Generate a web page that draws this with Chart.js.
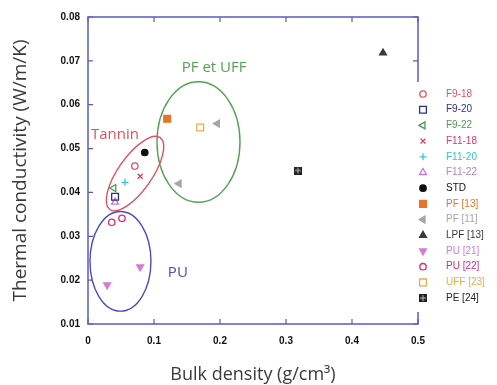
<!DOCTYPE html>
<html>
<head>
<meta charset="utf-8">
<script src="https://cdn.jsdelivr.net/npm/chart.js@4.4.1/dist/chart.umd.min.js"></script>
<style>
  html, body { margin: 0; padding: 0; background: #fff; }
  #wrap { width: 497px; height: 385px; position: relative; }
</style>
</head>
<body>
<div id="wrap"><canvas id="scatterChart"></canvas></div>
<script>
// series data
const seriesNames = ['F9-18', 'F9-20', 'F9-22', 'F11-18', 'F11-20', 'F11-22', 'STD',
  'PF [13]', 'PF [11]', 'LPF [13]', 'PU [21]', 'PU [22]', 'UFF [23]', 'PE [24]'];
const seriesX = [[0.071], [0.041], [0.039], [0.079], [0.056], [0.041], [0.086],
  [0.12], [0.196, 0.138], [0.447], [0.029, 0.079], [0.036, 0.0515], [0.17], [0.318]];
const seriesY = [[0.046], [0.039], [0.041], [0.0437], [0.0423], [0.0378], [0.0491],
  [0.0568], [0.0557, 0.042], [0.0718], [0.0189, 0.023], [0.0332, 0.0341], [0.0548], [0.045]];
const seriesColors = ['#e2505a', '#2e2e9a', '#4f9a4f', '#d63a6a', '#35c4d4', '#c27ac8', '#111111',
  '#e8742a', '#a6a6a6', '#3a3a3a', '#d67ad6', '#d42a86', '#f2aa48', '#222222'];
const seriesShapes = ['circle', 'rect', 'triangle', 'crossRot', 'cross', 'triangle', 'circle',
  'rect', 'triangle', 'triangle', 'triangle', 'circle', 'rect', 'grid'];
const seriesRotation = [0, 0, 270, 0, 0, 0, 0, 0, 270, 0, 180, 0, 0, 0];
const seriesFilled = [false, false, false, false, false, false, true,
  true, true, true, true, false, false, true];

// axis ticks
const xTickLabels = ['0', '0.1', '0.2', '0.3', '0.4', '0.5'];
const yTickLabels = ['0.01', '0.02', '0.03', '0.04', '0.05', '0.06', '0.07', '0.08'];

// group ellipses (centre in data units, radii in data units, tilt in degrees)
const groupNames = ['PF et UFF', 'Tannin', 'PU'];
const groupCx = [0.1674, 0.0712, 0.0492];
const groupCy = [0.0515, 0.0443, 0.0243];
const groupRx = [0.0629, 0.0664, 0.0462];
const groupRy = [0.01375, 0.00386, 0.01136];
const groupTilt = [0, -55, 0];
const groupLabelX = [0.142, 0.0045, 0.121];
const groupLabelY = [0.0684, 0.0532, 0.0218];
const groupColors = ['#56a056', '#e0505e', '#4a4ac2'];

const axisColor = '#5a5ac6';

// marker size by shape
function markerRadius(shape) {
  if (shape === 'rect') return 4.8;
  if (shape === 'triangle') return 4;
  if (shape === 'circle') return 3.2;
  return 3.5;
}

// boxed-plus marker for PE [24]
function gridMarker() {
  const c = document.createElement('canvas');
  c.width = 8; c.height = 8;
  const g = c.getContext('2d');
  g.fillStyle = '#222';
  g.fillRect(0, 0, 8, 8);
  g.fillStyle = '#bbb';
  g.fillRect(1, 3.5, 6, 1);
  g.fillRect(3.5, 1, 1, 6);
  return c;
}
const gridImg = gridMarker();

const datasets = seriesNames.map((name, i) => ({
  label: name,
  data: seriesX[i].map((x, j) => ({ x: x, y: seriesY[i][j] })),
  pointStyle: seriesShapes[i] === 'grid' ? gridImg : seriesShapes[i],
  rotation: seriesRotation[i],
  pointRadius: markerRadius(seriesShapes[i]),
  borderWidth: 1.3,
  borderColor: seriesColors[i],
  backgroundColor: seriesFilled[i] ? seriesColors[i] : 'rgba(0,0,0,0)'
}));

// frame, inward ticks and group ellipses
const decorPlugin = {
  id: 'decor',
  beforeDatasetsDraw(chart) {
    const ctx = chart.ctx;
    const a = chart.chartArea;
    const xs = chart.scales.x, ys = chart.scales.y;
    ctx.save();

    groupNames.forEach((g, i) => {
      const cx = xs.getPixelForValue(groupCx[i]);
      const cy = ys.getPixelForValue(groupCy[i]);
      const rx = Math.abs(xs.getPixelForValue(groupCx[i] + groupRx[i]) - cx);
      const ry = Math.abs(ys.getPixelForValue(groupCy[i] + groupRy[i]) - cy);
      ctx.strokeStyle = groupColors[i];
      ctx.lineWidth = 1.4;
      ctx.beginPath();
      ctx.ellipse(cx, cy, rx, ry, groupTilt[i] * Math.PI / 180, 0, Math.PI * 2);
      ctx.stroke();
      ctx.fillStyle = groupColors[i];
      ctx.font = '15px "Open Sans"';
      ctx.textBaseline = 'middle';
      ctx.fillText(g, xs.getPixelForValue(groupLabelX[i]), ys.getPixelForValue(groupLabelY[i]));
    });

    ctx.strokeStyle = axisColor;
    ctx.lineWidth = 1.5;
    ctx.strokeRect(a.left, a.top, a.right - a.left, a.bottom - a.top);
    ctx.lineWidth = 1.2;
    ctx.beginPath();
    xs.ticks.forEach(t => {
      const px = xs.getPixelForValue(t.value);
      ctx.moveTo(px, a.bottom); ctx.lineTo(px, a.bottom - 5);
      ctx.moveTo(px, a.top); ctx.lineTo(px, a.top + 5);
    });
    ys.ticks.forEach(t => {
      const py = ys.getPixelForValue(t.value);
      ctx.moveTo(a.left, py); ctx.lineTo(a.left + 5, py);
      ctx.moveTo(a.right, py); ctx.lineTo(a.right - 5, py);
    });
    ctx.stroke();
    ctx.restore();
  },
  afterDraw(chart) {
    // legend over the right frame
    const ctx = chart.ctx;
    ctx.save();
    ctx.fillStyle = '#fff';
    ctx.fillRect(410, 82, 87, 230);
    chart.data.datasets.forEach((ds, i) => {
      const y = 94 + i * 15.7;
      ctx.strokeStyle = ds.borderColor;
      ctx.fillStyle = ds.backgroundColor;
      ctx.lineWidth = 1.3;
      Chart.helpers.drawPoint(ctx, {
        pointStyle: ds.pointStyle, rotation: ds.rotation, radius: ds.pointRadius, borderWidth: 1.3
      }, 423, y);
      ctx.fillStyle = seriesColors[i];
      ctx.font = '10px "Liberation Sans"';
      ctx.textBaseline = 'middle';
      ctx.fillText(ds.label, 446, y);
    });
    ctx.restore();
  }
};

function createScatterChart() {
  const ctx = document.getElementById('scatterChart').getContext('2d');
  new Chart(ctx, {
    type: 'scatter',
    data: { datasets: datasets },
    options: {
      responsive: true,
      maintainAspectRatio: false,
      animation: false,
      layout: { padding: { top: 17, right: 79, left: 0, bottom: 0 } },
      plugins: { legend: { display: false }, tooltip: { enabled: false } },
      scales: {
        x: {
          min: 0, max: 0.5,
          grid: { display: false, drawTicks: false },
          border: { display: false },
          afterFit: s => { s.height = 61; },
          ticks: {
            stepSize: 0.1, padding: 11, color: '#111',
            font: { family: '"Liberation Sans"', size: 10, weight: 'bold' },
            callback: (v, i) => xTickLabels[i]
          },
          title: {
            display: true, text: 'Bulk density (g/cm³)', color: '#3a3a3a',
            font: { family: '"Open Sans"', size: 18, lineHeight: 1 },
            padding: { top: 0, bottom: 1 }
          }
        },
        y: {
          min: 0.01, max: 0.08,
          grid: { display: false, drawTicks: false },
          border: { display: false },
          afterFit: s => { s.width = 88; },
          ticks: {
            stepSize: 0.01, padding: 8, color: '#111',
            font: { family: '"Liberation Sans"', size: 10, weight: 'bold' },
            callback: (v, i) => yTickLabels[i]
          },
          title: {
            display: true, text: 'Thermal conductivity (W/m/K)', color: '#3a3a3a',
            font: { family: '"Open Sans"', size: 19, lineHeight: 1 },
            padding: { top: 11, bottom: 0 }
          }
        }
      }
    },
    plugins: [decorPlugin]
  });
}

createScatterChart();
</script>
</body>
</html>
